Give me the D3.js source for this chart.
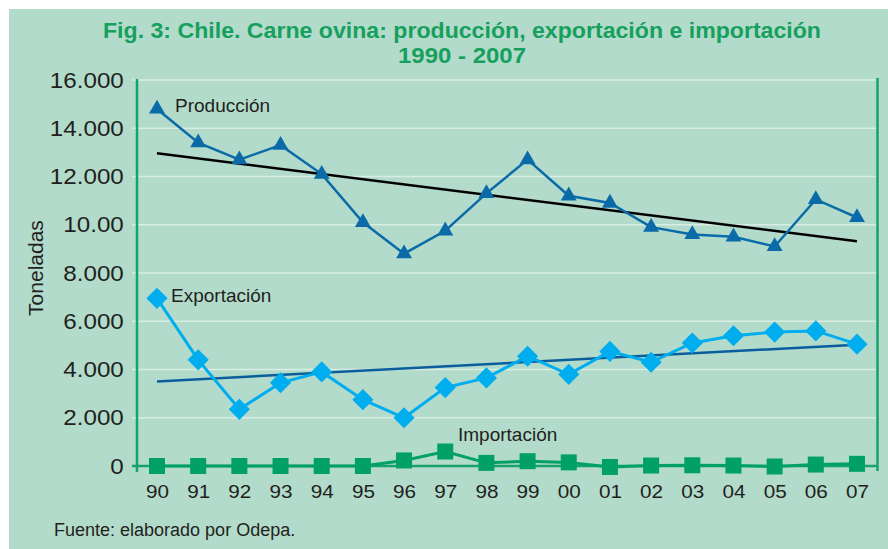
<!DOCTYPE html>
<html>
<head>
<meta charset="utf-8">
<script src="https://cdnjs.cloudflare.com/ajax/libs/d3/7.8.5/d3.min.js"></script>
<style>
  body { margin: 0; background: #fff; }
  svg { display: block; }
</style>
</head>
<body>
<script>
// chart data
var years = ["90","91","92","93","94","95","96","97","98","99","00","01","02","03","04","05","06","07"];
var produccion = [14800,13400,12700,13300,12100,10100,8800,9750,11300,12700,11200,10900,9900,9600,9500,9100,11050,10300];
var exportacion = [6950,4400,2350,3450,3900,2750,2000,3250,3650,4550,3800,4750,4300,5100,5400,5550,5600,5050];
var importacion = [0,0,0,0,0,0,230,600,130,200,150,-40,20,30,20,-20,60,90];
var yTicks = [0,2000,4000,6000,8000,10000,12000,14000,16000];
var yTickLabels = ["0","2.000","4.000","6.000","8.000","10.00","12.000","14.000","16.000"];

var w = 888;
var h = 549;
var font = "'Liberation Sans', Arial, sans-serif";

var svg = d3.select("body").append("svg")
	.attr("width", w)
	.attr("height", h);

// green panel
svg.append("rect")
	.attr("x", 9).attr("y", 9)
	.attr("width", w - 9).attr("height", h - 9)
	.attr("fill", "#b2dbcb");

var x = d3.scalePoint().domain(years).range([157, 857]);
var y = d3.scaleLinear().domain([0, 16000]).range([466, 80]);

// title, squeezed like the narrow bold face of the original
svg.append("text")
	.attr("x", 462).attr("y", 38)
	.attr("text-anchor", "middle")
	.attr("textLength", 718).attr("lengthAdjust", "spacingAndGlyphs")
	.style("font-family", font)
	.style("font-weight", "bold").style("font-size", "22px")
	.attr("fill", "#17a05d")
	.text("Fig. 3: Chile. Carne ovina: producción, exportación e importación");
svg.append("text")
	.attr("x", 462).attr("y", 63)
	.attr("text-anchor", "middle")
	.attr("textLength", 128).attr("lengthAdjust", "spacingAndGlyphs")
	.style("font-family", font)
	.style("font-weight", "bold").style("font-size", "22px")
	.attr("fill", "#17a05d")
	.text("1990 - 2007");

// gridlines
svg.append("g").selectAll("line")
	.data(yTicks.filter(function (d) { return d > 0; }))
	.enter().append("line")
	.attr("x1", 132).attr("x2", 877)
	.attr("y1", function (d) { return y(d); })
	.attr("y2", function (d) { return y(d); })
	.attr("stroke", "#d8eee4").attr("stroke-width", 1.6);

// y axis labels (slightly stretched horizontally)
var yAxis = d3.axisLeft(y).tickValues(yTicks)
	.tickSize(0).tickPadding(12)
	.tickFormat(function (d, i) { return yTickLabels[i]; });
var gy = svg.append("g").attr("transform", "translate(137,0)").call(yAxis);
gy.select(".domain").remove();
gy.selectAll("text")
	.attr("transform", "scale(1.1,1)")
	.style("font-family", font)
	.style("font-size", "22px").attr("fill", "#231f20");

// x axis labels
var xAxis = d3.axisBottom(x).tickSize(0).tickPadding(19);
var gx = svg.append("g").attr("transform", "translate(0,466)").call(xAxis);
gx.select(".domain").remove();
gx.selectAll("text")
	.attr("transform", "scale(1.15,1)")
	.style("font-family", font)
	.style("font-size", "18px").attr("fill", "#231f20");

// frame lines (green)
var axisCol = "#16a36b";
svg.append("line").attr("x1", 137).attr("x2", 137).attr("y1", 79).attr("y2", 472)
	.attr("stroke", axisCol).attr("stroke-width", 2.5);
svg.append("line").attr("x1", 877.5).attr("x2", 877.5).attr("y1", 78).attr("y2", 471)
	.attr("stroke", axisCol).attr("stroke-width", 2.5);
svg.append("line").attr("x1", 132).attr("x2", 877).attr("y1", y(0)).attr("y2", y(0))
	.attr("stroke", axisCol).attr("stroke-width", 2.5);

// y title
svg.append("text")
	.attr("transform", "translate(43,268) rotate(-90)")
	.attr("text-anchor", "middle")
	.style("font-family", font)
	.style("font-size", "21px").attr("fill", "#231f20")
	.text("Toneladas");

// least squares trend over index
function trend(vals) {
	var n = vals.length;
	var mx = (n - 1) / 2;
	var my = d3.mean(vals);
	var sxy = 0, sxx = 0;
	vals.forEach(function (v, i) { sxy += (i - mx) * (v - my); sxx += (i - mx) * (i - mx); });
	var b = sxy / sxx;
	return [my - b * mx, my + b * (n - 1 - mx)];
}

var line = d3.line()
	.x(function (d, i) { return x(years[i]); })
	.y(function (d) { return y(d); });

function drawTrend(vals, col) {
	var t = trend(vals);
	svg.append("line")
		.attr("x1", x(years[0])).attr("x2", x(years[years.length - 1]))
		.attr("y1", y(t[0])).attr("y2", y(t[1]))
		.attr("stroke", col).attr("stroke-width", 2.5);
}

drawTrend(produccion, "#000");
drawTrend(exportacion, "#0a5e9c");

// series lines
svg.append("path").datum(importacion).attr("d", line)
	.attr("fill", "none").attr("stroke", "#00a068").attr("stroke-width", 3);
svg.append("path").datum(exportacion).attr("d", line)
	.attr("fill", "none").attr("stroke", "#00adef").attr("stroke-width", 3);
svg.append("path").datum(produccion).attr("d", line)
	.attr("fill", "none").attr("stroke", "#0b6ba8").attr("stroke-width", 2.5);

// markers
svg.append("g").selectAll("rect").data(importacion).enter().append("rect")
	.attr("x", function (d, i) { return x(years[i]) - 8; })
	.attr("y", function (d) { return y(d) - 8; })
	.attr("width", 16).attr("height", 16)
	.attr("fill", "#00a068");

svg.append("g").selectAll("path").data(exportacion).enter().append("path")
	.attr("d", d3.symbol().type(d3.symbolDiamond2).size(285))
	.attr("transform", function (d, i) { return "translate(" + x(years[i]) + "," + y(d) + ")"; })
	.attr("fill", "#00adef");

svg.append("g").selectAll("path").data(produccion).enter().append("path")
	.attr("d", d3.symbol().type(d3.symbolTriangle).size(110))
	.attr("transform", function (d, i) { return "translate(" + x(years[i]) + "," + y(d) + ")"; })
	.attr("fill", "#0b6ba8");

// series labels
var lab = function (tx, lx, ly) {
	svg.append("text").attr("x", lx).attr("y", ly)
		.style("font-family", font)
		.style("font-size", "19px").attr("fill", "#231f20")
		.text(tx);
};
lab("Producción", 175, 112);
lab("Exportación", 171, 302);
lab("Importación", 458, 441);

// source
svg.append("text").attr("x", 54).attr("y", 536)
	.style("font-family", font)
	.style("font-size", "18px").attr("fill", "#231f20")
	.text("Fuente: elaborado por Odepa.");
</script>
</body>
</html>
